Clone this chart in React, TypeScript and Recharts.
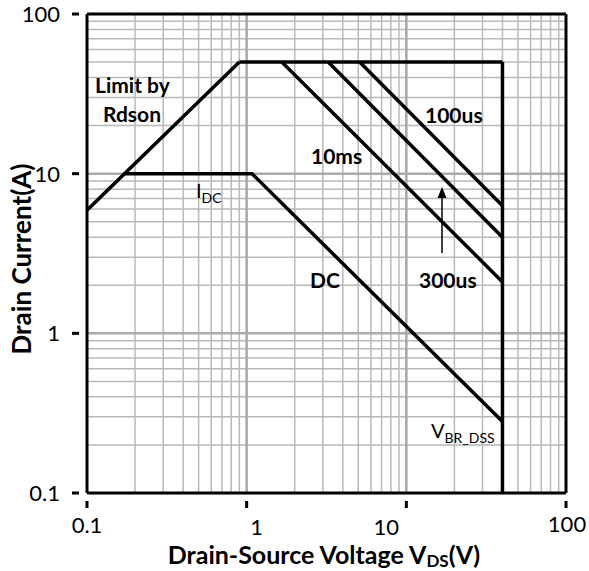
import { LineChart, Line, XAxis, YAxis, CartesianGrid, ReferenceLine } from "recharts"

// minor + major grid positions (1..9 per decade)
const decades = [0.1, 1, 10]
const gridTicks = [...decades.flatMap((d) => [1, 2, 3, 4, 5, 6, 7, 8, 9].map((m) => m * d)), 100]
const majorTicks = [0.1, 1, 10, 100]
const xTickLabels = ["0.1", "1", "10", "100"]
const yTickLabels = ["0.1", "1", "10", "100"]

// SOA boundaries (Vds, Id)
const rdsonLimit = [{ x: 0.1, y: 5.9 }, { x: 0.9, y: 50 }]
const currentLimit = [{ x: 0.9, y: 50 }, { x: 40, y: 50 }]
const vbrLimit = [{ x: 40, y: 50 }, { x: 40, y: 0.1 }]
const line10ms = [{ x: 1.66, y: 50 }, { x: 40, y: 2.1 }]
const line300us = [{ x: 3.24, y: 50 }, { x: 40, y: 4.0 }]
const line100us = [{ x: 5.1, y: 50 }, { x: 40, y: 6.3 }]
const lineDC = [{ x: 0.17, y: 10 }, { x: 1.08, y: 10 }, { x: 40, y: 0.28 }]

const series = [rdsonLimit, currentLimit, vbrLimit, line10ms, line300us, line100us, lineDC]

const FONT = "Lato, 'Open Sans', sans-serif"

const isMajor = (v: number) => Math.abs(Math.log10(v) - Math.round(Math.log10(v))) < 1e-6

// label nudges like the original (excel-ish staggered labels)
const xLabelShift: Record<string, [number, number]> = {
  "0.1": [0, 32],
  "1": [10, 34],
  "10": [-20, 34],
  "100": [1, 31],
}

const XTick = (props: any) => {
  const { x, y, payload } = props
  const v = payload.value
  if (!isMajor(v)) return null
  const label = xTickLabels[majorTicks.findIndex((t) => Math.abs(t - v) < 1e-6)]
  const [dx, dy] = xLabelShift[label]
  return (
    <g>
      <line x1={x} y1={y} x2={x} y2={y + 7} stroke="#000" strokeWidth={3} />
      <text x={x + dx} y={y + dy} textAnchor="middle" fontSize={22} fontFamily={FONT} fill="#000">
        {label}
      </text>
    </g>
  )
}

const YTick = (props: any) => {
  const { x, y, payload } = props
  const v = payload.value
  if (!isMajor(v)) return null
  const label = yTickLabels[majorTicks.findIndex((t) => Math.abs(t - v) < 1e-6)]
  return (
    <g>
      <line x1={x} y1={y} x2={x - 7} y2={y} stroke="#000" strokeWidth={3} />
      <text x={x - 19} y={y + 8} textAnchor="end" fontSize={22} fontFamily={FONT} fill="#000">
        {label}
      </text>
    </g>
  )
}

export default function App() {
  return (
    <div style={{ position: "absolute", left: 0, top: 0, width: 589, height: 571, background: "#fff" }}>
      <LineChart width={589} height={571} margin={{ top: 14, right: 23, left: 0, bottom: 0 }}>
        <CartesianGrid stroke="#b8b8b8" strokeWidth={1.5} />
        <XAxis
          dataKey="x"
          type="number"
          scale="log"
          domain={[0.1, 100]}
          ticks={gridTicks}
          interval={0}
          allowDataOverflow
          height={78}
          axisLine={{ stroke: "#000", strokeWidth: 3 }}
          tickLine={false}
          tick={<XTick />}
        />
        <YAxis
          dataKey="y"
          type="number"
          scale="log"
          domain={[0.1, 100]}
          ticks={gridTicks}
          interval={0}
          allowDataOverflow
          width={87}
          axisLine={{ stroke: "#000", strokeWidth: 3 }}
          tickLine={false}
          tick={<YTick />}
        />
        {[1, 10].map((v) => (
          <ReferenceLine key={"vx" + v} x={v} stroke="#aaa" strokeWidth={2.5} />
        ))}
        {[1, 10].map((v) => (
          <ReferenceLine key={"hy" + v} y={v} stroke="#aaa" strokeWidth={2.5} />
        ))}
        <ReferenceLine y={100} stroke="#000" strokeWidth={3} />
        <ReferenceLine x={100} stroke="#000" strokeWidth={3} />
        {series.map((d, i) => (
          <Line
            key={i}
            data={d}
            dataKey="y"
            stroke="#000"
            strokeWidth={3.5}
            dot={false}
            activeDot={false}
            isAnimationActive={false}
          />
        ))}
      </LineChart>
      <svg
        width={589}
        height={571}
        style={{ position: "absolute", left: 0, top: 0, pointerEvents: "none" }}
        fontFamily={FONT}
      >
        <g fontWeight="bold" fontSize={21} fill="#000">
          <text x={95} y={93}>Limit by</text>
          <text x={103} y={122}>Rdson</text>
          <text x={311} y={164}>10ms</text>
          <text x={425} y={123}>100us</text>
          <text x={310} y={288}>DC</text>
          <text x={419} y={288}>300us</text>
        </g>
        <text x={196} y={198} fontSize={20} fill="#000">
          I<tspan fontSize={14} dy={5}>DC</tspan>
        </text>
        <text x={431} y={438} fontSize={20} fill="#000">
          V<tspan fontSize={14} dy={5}>BR_DSS</tspan>
        </text>
        <line x1={442} y1={253} x2={442} y2={196} stroke="#000" strokeWidth={1.5} />
        <polygon points="442,187 437.5,198 446.5,198" fill="#000" />
        <text
          transform="translate(31,259) rotate(-90)"
          textAnchor="middle"
          fontSize={26}
          fontWeight="bold"
          fill="#000"
        >
          Drain Current(A)
        </text>
        <text x={324} y={564} textAnchor="middle" fontSize={25} fontWeight="bold" fill="#000">
          Drain-Source Voltage V<tspan fontSize={17} dy={3}>DS</tspan>
          <tspan dy={-3}>(V)</tspan>
        </text>
      </svg>
    </div>
  )
}
